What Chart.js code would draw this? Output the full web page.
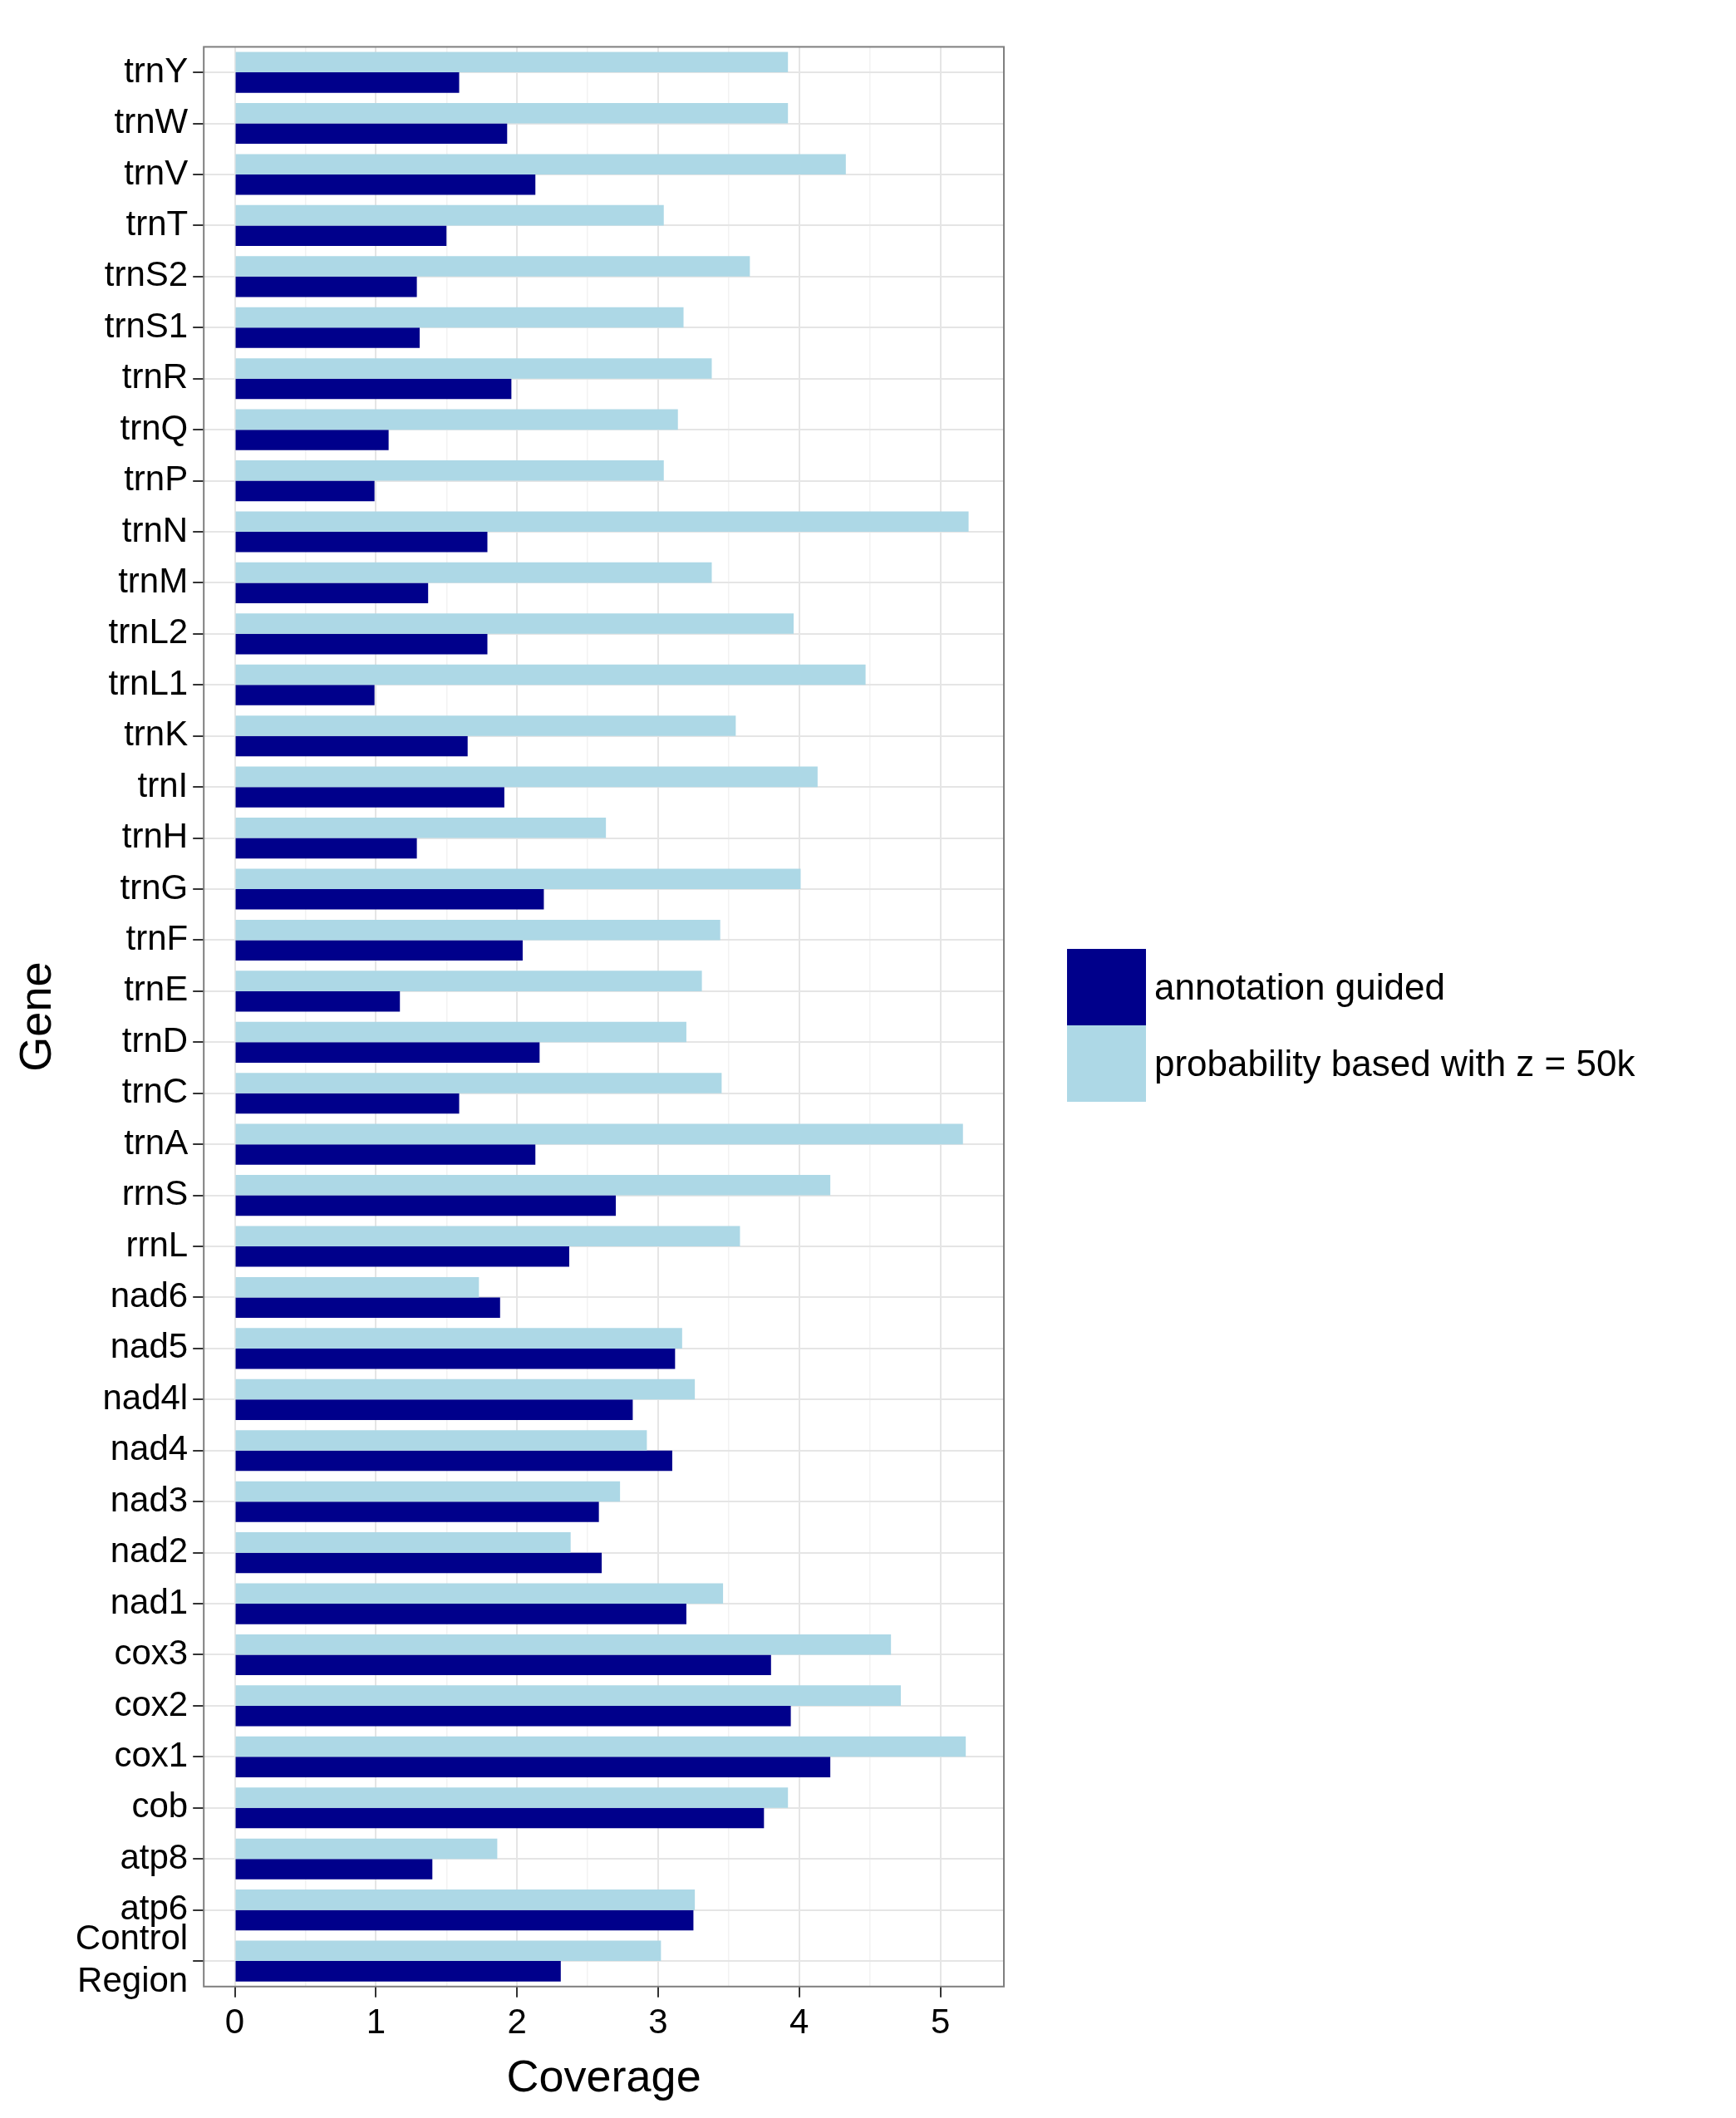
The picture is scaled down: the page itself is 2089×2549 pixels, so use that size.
<!DOCTYPE html>
<html>
<head>
<meta charset="utf-8">
<script src="https://cdn.jsdelivr.net/npm/chart.js@4/dist/chart.umd.min.js"></script>
<style>
  body { margin: 0; background: #fff; font-family: "Liberation Sans", Arial, sans-serif; }
  #wrap { position: relative; width: 2089px; height: 2549px; }
  #legend { position: absolute; left: 1284px; top: 1142px; font-size: 44px; color: #000; }
  .item { display: flex; align-items: center; height: 92px; }
  .box { width: 95px; height: 92px; margin-right: 10px; }
</style>
</head>
<body>
<div id="wrap">
  <canvas id="chart" width="2089" height="2549"></canvas>
  <div id="legend">
    <div class="item"><div class="box" style="background:#00008b"></div>annotation guided</div>
    <div class="item"><div class="box" style="background:#add8e6"></div>probability based with z = 50k</div>
  </div>
</div>
<script>
const genes = ['trnY','trnW','trnV','trnT','trnS2','trnS1','trnR','trnQ','trnP','trnN','trnM','trnL2','trnL1',
  'trnK','trnI','trnH','trnG','trnF','trnE','trnD','trnC','trnA','rrnS','rrnL','nad6','nad5','nad4l','nad4',
  'nad3','nad2','nad1','cox3','cox2','cox1','cob','atp8','atp6',['Control','Region']];

const annotationGuided = [1.59,1.93,2.13,1.50,1.29,1.31,1.96,1.09,0.99,1.79,1.37,1.79,0.99,
  1.65,1.91,1.29,2.19,2.04,1.17,2.16,1.59,2.13,2.70,2.37,1.88,3.12,2.82,3.10,
  2.58,2.60,3.20,3.80,3.94,4.22,3.75,1.40,3.25,2.31];

const probabilityBased = [3.92,3.92,4.33,3.04,3.65,3.18,3.38,3.14,3.04,5.20,3.38,3.96,4.47,
  3.55,4.13,2.63,4.01,3.44,3.31,3.20,3.45,5.16,4.22,3.58,1.73,3.17,3.26,2.92,
  2.73,2.38,3.46,4.65,4.72,5.18,3.92,1.86,3.26,3.02];

const xTicks = [0,0.5,1,1.5,2,2.5,3,3.5,4,4.5,5];

// grey border around the plot panel
const panelBorder = {
  id: 'panelBorder',
  afterDraw(chart) {
    const a = chart.chartArea, c = chart.ctx;
    c.save();
    c.strokeStyle = '#7f7f7f';
    c.lineWidth = 2;
    c.strokeRect(a.left, a.top, a.right - a.left, a.bottom - a.top);
    c.restore();
  }
};

new Chart(document.getElementById('chart'), {
  type: 'bar',
  data: {
    labels: genes,
    datasets: [
      { label: 'probability based with z = 50k', data: probabilityBased, backgroundColor: '#add8e6' },
      { label: 'annotation guided', data: annotationGuided, backgroundColor: '#00008b' }
    ]
  },
  options: {
    indexAxis: 'y',
    responsive: false,
    animation: false,
    devicePixelRatio: 1,
    layout: { padding: { top: 26, right: 881, bottom: 10, left: 10 } },
    datasets: { bar: { categoryPercentage: 0.8, barPercentage: 1.0 } },
    plugins: { legend: { display: false }, tooltip: { enabled: false } },
    scales: {
      x: {
        min: -0.22, max: 5.45,
        afterBuildTicks: axis => { axis.ticks = xTicks.map(v => ({ value: v })); },
        ticks: {
          color: '#000', font: { size: 42, family: 'Liberation Sans' }, padding: 6,
          callback: v => Number.isInteger(v) ? v : ''
        },
        grid: {
          color: ctx => Number.isInteger(ctx.tick.value) ? '#e5e5e5' : '#f2f2f2',
          lineWidth: ctx => Number.isInteger(ctx.tick.value) ? 2 : 1.5,
          tickColor: ctx => Number.isInteger(ctx.tick.value) ? '#333' : 'rgba(0,0,0,0)',
          tickLength: 13, drawOnChartArea: true
        },
        border: { display: false },
        title: { display: true, text: 'Coverage', color: '#000', font: { size: 54, family: 'Liberation Sans' }, padding: { top: 4 } }
      },
      y: {
        ticks: { color: '#000', font: { size: 42, family: 'Liberation Sans' }, padding: 6, autoSkip: false },
        grid: { offset: false, color: '#e5e5e5', lineWidth: 2, tickColor: '#333', tickLength: 13 },
        border: { display: false },
        title: { display: true, text: 'Gene', color: '#000', font: { size: 54, family: 'Liberation Sans' }, padding: { bottom: 6 } }
      }
    }
  },
  plugins: [panelBorder]
});
</script>
</body>
</html>
